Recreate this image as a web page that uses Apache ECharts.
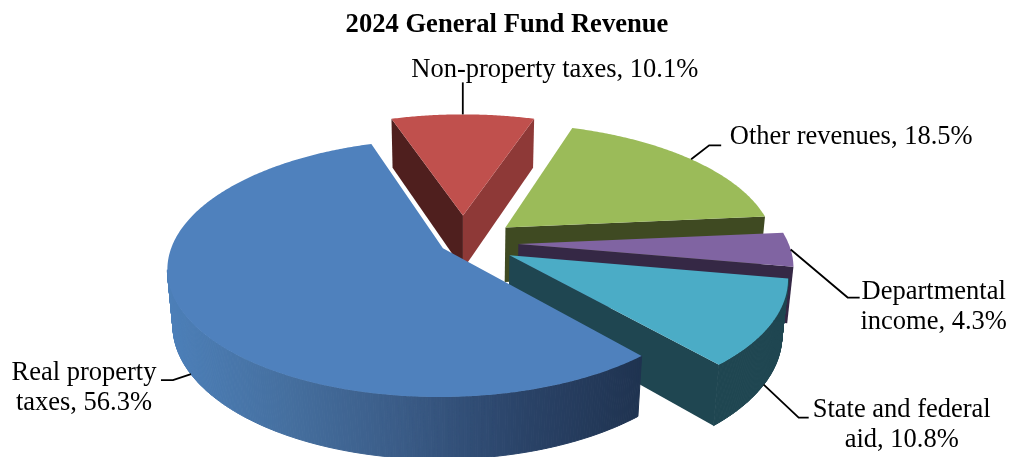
<!DOCTYPE html>
<html style="height: 100%">
<head>
<meta charset="utf-8">
<script src="https://cdn.jsdelivr.net/npm/echarts@6/dist/echarts.min.js"></script>
</head>
<body style="height: 100%; margin: 0; background: #fff;">
<div id="container" style="width: 1010px; height: 457px;"></div>
<script type="text/javascript">
var chartTitle = '2024 General Fund Revenue';
var categories = ['Real property\ntaxes', 'Non-property taxes', 'Other revenues', 'Departmental\nincome', 'State and federal\naid'];
var shares = [56.3, 10.1, 18.5, 4.3, 10.8];

// camera for the tilted pie
var cam = { cx: 463, cy: 243, k: 270, tilt: 27.4, dist: 5.8, height: 0.235 };
var startAngle = 49.1;                   // clockwise on screen, 0 = right
var explode = [0.085, 0.23, 0.205, 0.205, 0.195];
var paintRank = [5, 1, 2, 3, 4];         // back slices first
var topColors = ['#4f81bd', '#c0504d', '#9bbb59', '#8064a2', '#4bacc6'];
var wallColors = [
    { outer: ['#4c7fb8', '#456f9f', '#3a5b86', '#2a4368', '#1f3350'], first: '#1f3350', last: '#1f3350' },
    { outer: ['#4f1f1e'], first: '#4f1f1e', last: '#8e3937' },
    { outer: ['#3f4a22'], first: '#3f4a22', last: '#3f4a22' },
    { outer: ['#352845'], first: '#352845', last: '#352845' },
    { outer: ['#1f4651'], first: '#1f4651', last: '#1f4651' }
];
// where each label hangs: fraction along the slice arc, rim level (0 top, 1 bottom), leader bends, text offset from leader end
var labelSpots = [
    { frac: 0.5, level: 1, bends: [[-18, 6], [-30, 6]], text: [-77, -22] },
    { frac: 0.5, level: 0, bends: [[0, -32]], text: [92, -27] },
    { frac: 0.5, level: 0, bends: [[18, -14], [30, -14]], text: [130, -23] },
    { frac: 0.5, level: 0, bends: [[57, 48], [69, 48]], text: [74, -20] },
    { frac: 0.52, level: 1, bends: [[35, 33], [45, 33]], text: [93, -23] }
];

function project(u, v, h) {
    var t = cam.tilt * Math.PI / 180;
    var w = cam.dist - v * Math.cos(t) + h * Math.sin(t);
    var f = cam.k * cam.dist;
    return [cam.cx + f * u / w, cam.cy + f * (v * Math.sin(t) + h * Math.cos(t)) / w];
}

function sliceAngles(i) {
    var before = 0;
    for (var n = 0; n < i; n++) { before += shares[n]; }
    var a0 = startAngle + before * 3.6;
    return [a0, a0 + shares[i] * 3.6];
}

function rimPoint(i, deg, h) {
    var ang = sliceAngles(i);
    var mid = (ang[0] + ang[1]) / 2 * Math.PI / 180;
    var r = deg * Math.PI / 180;
    return project(explode[i] * Math.cos(mid) + Math.cos(r), explode[i] * Math.sin(mid) + Math.sin(r), h);
}

function apexPoint(i, h) {
    var ang = sliceAngles(i);
    var mid = (ang[0] + ang[1]) / 2 * Math.PI / 180;
    return project(explode[i] * Math.cos(mid), explode[i] * Math.sin(mid), h);
}

function renderSlice(params) {
    var i = params.dataIndex;
    var ang = sliceAngles(i);
    var steps = Math.ceil(ang[1] - ang[0]) * 2, topArc = [], lowArc = [], minX = Infinity, maxX = -Infinity;
    for (var s = 0; s <= steps; s++) {
        var d = ang[0] + (ang[1] - ang[0]) * s / steps;
        topArc.push(rimPoint(i, d, 0));
        lowArc.push(rimPoint(i, d, cam.height));
        minX = Math.min(minX, topArc[s][0]);
        maxX = Math.max(maxX, topArc[s][0]);
    }
    var z = paintRank[i] * 10;
    var a = apexPoint(i, 0), b = apexPoint(i, cam.height);
    var walls = wallColors[i];
    function face(points, fill, z2) {
        return { type: 'polygon', z2: z2, shape: { points: points }, style: { fill: fill } };
    }
    var children = [];
    // outer wall as thin quads, only the stretch that faces the viewer
    for (var q = 0; q < steps; q++) {
        if (topArc[q + 1][0] >= topArc[q][0]) { continue; }
        var t = (topArc[q][0] + topArc[q + 1][0]) / 2;
        var fill = walls.outer.length > 1 ? echarts.color.lerp((t - minX) / (maxX - minX), walls.outer) : walls.outer[0];
        children.push({
            type: 'polygon', z2: z,
            shape: { points: [topArc[q], topArc[q + 1], lowArc[q + 1], lowArc[q]] },
            style: { fill: fill, stroke: fill, lineWidth: 1 }
        });
    }
    // cut faces show only when they turn towards the viewer
    if (topArc[0][0] < a[0]) { children.push(face([a, topArc[0], lowArc[0], b], walls.first, z + 1)); }
    if (topArc[steps][0] > a[0]) { children.push(face([a, topArc[steps], lowArc[steps], b], walls.last, z + 1)); }
    children.push(face([a].concat(topArc), topColors[i], z + 2));

    // leader line and label
    var spot = labelSpots[i];
    var anchor = rimPoint(i, ang[0] + (ang[1] - ang[0]) * spot.frac, spot.level ? cam.height : 0);
    var line = [anchor];
    spot.bends.forEach(function (p) { line.push([anchor[0] + p[0], anchor[1] + p[1]]); });
    var end = line[line.length - 1];
    children.push({
        type: 'polyline', z2: 100, shape: { points: line },
        style: { stroke: '#000', lineWidth: 1.8, fill: null }
    });
    children.push({
        type: 'text', z2: 101,
        x: end[0] + spot.text[0], y: end[1] + spot.text[1],
        style: {
            text: categories[i] + ', ' + shares[i].toFixed(1) + '%',
            font: '26.5px "Liberation Serif"', lineHeight: 30, fill: '#000',
            align: 'center', verticalAlign: 'top'
        }
    });
    return { type: 'group', children: children };
}

var myChart = echarts.init(document.getElementById('container'));
var option = {
    animation: false,
    title: {
        text: chartTitle, left: 502, top: 7, textAlign: 'center',
        textStyle: { fontFamily: 'Liberation Serif', fontSize: 26.6, fontWeight: 'bold', color: '#000' }
    },
    series: [{
        type: 'custom',
        coordinateSystem: 'none',
        silent: true,
        renderItem: renderSlice,
        data: shares.map(function (v) { return [v]; })
    }]
};
myChart.setOption(option);
</script>
</body>
</html>
